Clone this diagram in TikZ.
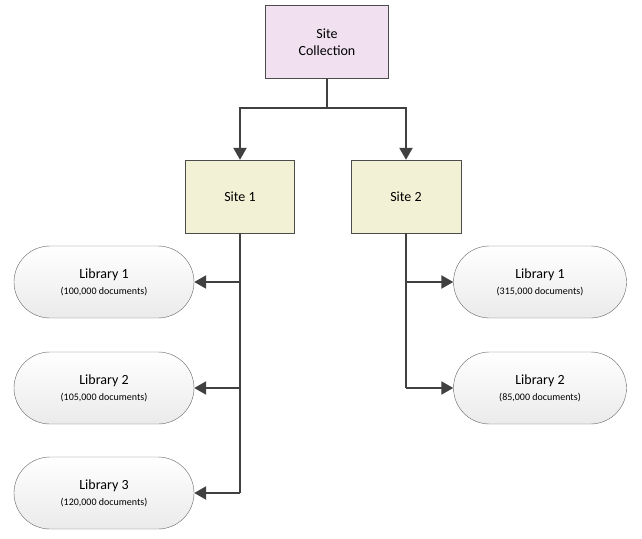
\documentclass[tikz,border=0pt]{standalone}
\usepackage{fontspec}
\setmainfont{Carlito}
\usetikzlibrary{arrows.meta,shapes.misc}
\begin{document}
\begin{tikzpicture}[x=1pt,y=-1pt,
  box/.style={draw=black!70,minimum width=#1,minimum height=73pt,inner sep=0pt,align=center,font=\fontsize{14}{17}\selectfont},
  lib/.style={draw=black!60,rounded rectangle,minimum width=180pt,minimum height=72pt,inner sep=0pt,align=center,
    top color=white,bottom color=black!8,font=\fontsize{14}{17}\selectfont},
  conn/.style={draw=black!75,line width=2.2pt},
  arr/.style={conn,-{Triangle[length=12pt,width=13pt]}}]
\useasboundingbox (0,0) rectangle (642,538);
\node[box=123pt,fill=violet!12] (sc) at (327,42) {Site\\Collection};
\node[box=109pt,fill=olive!12] (s1) at (240,196.5) {Site 1};
\node[box=110pt,fill=olive!12] (s2) at (406,196.5) {Site 2};
\node[lib] (l1) at (104,282) {Library 1\\[-1pt]{\fontsize{10}{12}\selectfont(100,000 documents)}};
\node[lib] (l2) at (104,388) {Library 2\\[-1pt]{\fontsize{10}{12}\selectfont(105,000 documents)}};
\node[lib] (l3) at (104,493) {Library 3\\[-1pt]{\fontsize{10}{12}\selectfont(120,000 documents)}};
\node[lib,minimum width=173pt] (r1) at (540,282) {Library 1\\[-1pt]{\fontsize{10}{12}\selectfont(315,000 documents)}};
\node[lib,minimum width=173pt] (r2) at (540,388) {Library 2\\[-1pt]{\fontsize{10}{12}\selectfont(85,000 documents)}};
\coordinate (j) at (327,108);
\draw[conn] (sc.south) -- (j);
\draw[arr] (j) -| (s1.north);
\draw[arr] (j) -| (s2.north);
\draw[conn] (s1.south) -- (240,493);
\draw[conn] (s2.south) -- (406,388);
\draw[arr] (240,282) -- (l1.east);
\draw[arr] (240,388) -- (l2.east);
\draw[arr] (240,493) -- (l3.east);
\draw[arr] (406,282) -- (r1.west);
\draw[arr] (406,388) -- (r2.west);
\end{tikzpicture}
\end{document}
